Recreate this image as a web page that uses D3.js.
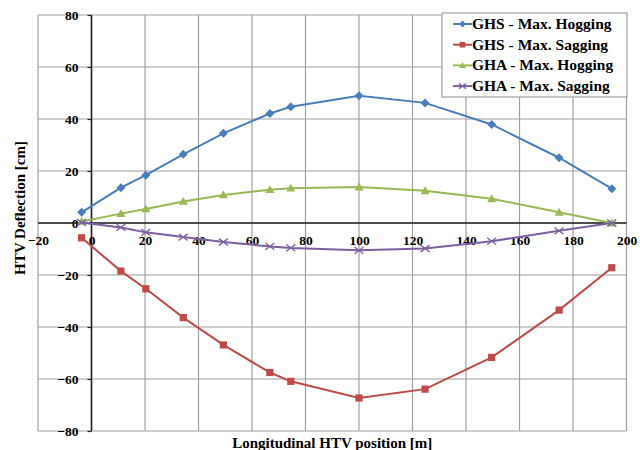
<!DOCTYPE html>
<html>
<head>
<meta charset="utf-8">
<script src="https://cdn.jsdelivr.net/npm/d3@7"></script>
<style>
  html, body { margin: 0; padding: 0; background: #fff; }
  svg { display: block; }
  text { font-family: "Liberation Serif", "Times New Roman", Times, serif; font-weight: bold; fill: #000; }
</style>
</head>
<body>
<svg id="chart" width="640" height="450"></svg>
<script>
// ---- data ----
const positions = [-3.7, 11, 20.3, 34.3, 49.3, 66.7, 74.5, 100, 124.7, 149.6, 174.8, 194.5];
const ghsHogging = [4.1, 13.6, 18.4, 26.4, 34.5, 42.1, 44.7, 48.9, 46.2, 37.9, 25.1, 13.2];
const ghsSagging = [-5.7, -18.5, -25.3, -36.4, -46.9, -57.5, -60.9, -67.3, -63.9, -51.7, -33.5, -17.2];
const ghaHogging = [0.6, 3.6, 5.4, 8.3, 10.8, 12.8, 13.4, 13.8, 12.4, 9.3, 4.1, 0.0];
const ghaSagging = [0.2, -1.7, -3.6, -5.4, -7.3, -9.0, -9.6, -10.5, -9.8, -7.0, -3.0, 0.0];
const seriesNames = ["GHS - Max. Hogging", "GHS - Max. Sagging", "GHA - Max. Hogging", "GHA - Max. Sagging"];
const xTicks = [-20, 0, 20, 40, 60, 80, 100, 120, 140, 160, 180, 200];
const yTicks = [-80, -60, -40, -20, 0, 20, 40, 60, 80];
const xTitle = "Longitudinal HTV position [m]";
const yTitle = "HTV Deflection [cm]";

// ---- styles ----
const colors = ["#4a7ebb", "#be4b48", "#98b954", "#7d60a0"];
const markers = ["diamond", "square", "triangle", "cross"];
const seriesValues = [ghsHogging, ghsSagging, ghaHogging, ghaSagging];
const FONT = '"Liberation Serif", "Times New Roman", Times, serif';

const svg = d3.select("#chart");
const pLeft = 38, pRight = 626.5, pTop = 15, pBottom = 431;

const x = d3.scaleLinear().domain([-20, 200]).range([pLeft, pRight]);
const y = d3.scaleLinear().domain([-80, 80]).range([pBottom, pTop]);

// gridlines
const grid = svg.append("g");
grid.selectAll("line.v").data(xTicks).join("line").attr("class", "v")
  .attr("x1", d => x(d)).attr("x2", d => x(d))
  .attr("y1", pTop).attr("y2", pBottom)
  .attr("stroke", "#a0a0a0").attr("stroke-width", 1.2);
grid.selectAll("line.h").data(yTicks).join("line").attr("class", "h")
  .attr("x1", pLeft).attr("x2", pRight)
  .attr("y1", d => y(d)).attr("y2", d => y(d))
  .attr("stroke", "#a0a0a0").attr("stroke-width", 1.2);

// axes crossing at 0
const yAxis = svg.append("g")
  .attr("transform", `translate(${x(0)},0)`)
  .call(d3.axisLeft(y).tickValues(yTicks).tickSize(4).tickPadding(9).tickFormat(d3.format("d")));
const xAxis = svg.append("g")
  .attr("transform", `translate(0,${y(0)})`)
  .call(d3.axisBottom(x).tickValues(xTicks).tickSize(0).tickPadding(12).tickFormat(d3.format("d")));
[xAxis, yAxis].forEach(a => {
  a.attr("font-family", FONT);
  a.select(".domain").attr("stroke", "#222").attr("stroke-width", 1.6);
  a.selectAll(".tick line").attr("stroke", "#222").attr("stroke-width", 1.2);
  a.selectAll(".tick text")
    .style("font-family", FONT)
    .attr("font-weight", "bold").attr("font-size", 13.5).attr("fill", "#000");
});
xAxis.select(".domain").attr("d", `M${pLeft},0H${pRight}`);
yAxis.select(".domain").attr("d", `M0,${pTop}V${pBottom}`);

// marker drawing
function drawMarker(g, type, color, s) {
  if (type === "diamond") {
    g.append("path").attr("d", `M0,${-s}L${s},0L0,${s}L${-s},0Z`).attr("fill", color);
  } else if (type === "square") {
    g.append("rect").attr("x", -s * 0.8).attr("y", -s * 0.8).attr("width", s * 1.6).attr("height", s * 1.6).attr("fill", color);
  } else if (type === "triangle") {
    g.append("path").attr("d", `M0,${-s}L${s},${s * 0.75}L${-s},${s * 0.75}Z`).attr("fill", color);
  } else {
    g.append("path").attr("d", `M${-s},${-s * 0.75}L${s},${s * 0.75}M${-s},${s * 0.75}L${s},${-s * 0.75}`)
      .attr("stroke", color).attr("stroke-width", 1.3).attr("fill", "none");
  }
}

// series
const line = d3.line().x(d => x(d[0])).y(d => y(d[1]));
seriesValues.forEach((vals, i) => {
  const pts = positions.map((p, j) => [p, vals[j]]);
  svg.append("path").datum(pts)
    .attr("d", line).attr("fill", "none")
    .attr("stroke", colors[i]).attr("stroke-width", 2);
  const mg = svg.append("g");
  pts.forEach(p => {
    const g = mg.append("g").attr("transform", `translate(${x(p[0])},${y(p[1])})`);
    drawMarker(g, markers[i], colors[i], 4.5);
  });
});

// axis titles
svg.append("text").attr("x", (pLeft + pRight) / 2).attr("y", 448)
  .attr("text-anchor", "middle").attr("font-size", 15).style("font-family", FONT).text(xTitle);
svg.append("text").attr("transform", "translate(25,208) rotate(-90)")
  .attr("text-anchor", "middle").attr("font-size", 15).style("font-family", FONT).text(yTitle);

// legend
const lg = svg.append("g");
lg.append("rect").attr("x", 442).attr("y", 13).attr("width", 185).attr("height", 84)
  .attr("fill", "#fff").attr("stroke", "#a0a0a0").attr("stroke-width", 1.2);
seriesNames.forEach((name, i) => {
  const cy = 24 + i * 20.7;
  lg.append("line").attr("x1", 453).attr("x2", 472).attr("y1", cy).attr("y2", cy)
    .attr("stroke", colors[i]).attr("stroke-width", 2);
  const g = lg.append("g").attr("transform", `translate(462.5,${cy})`);
  drawMarker(g, markers[i], colors[i], 3.5);
  lg.append("text").attr("x", 472).attr("y", cy + 5).attr("font-size", 15.5).style("font-family", FONT).text(name);
});
</script>
</body>
</html>
